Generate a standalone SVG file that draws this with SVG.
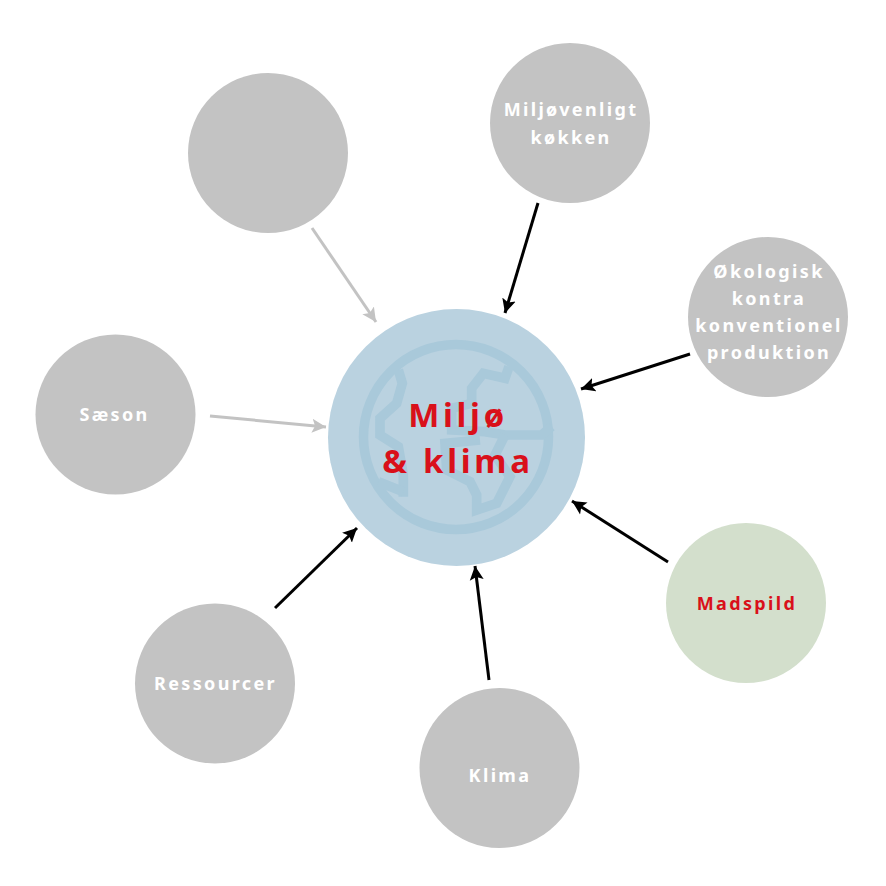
<svg xmlns="http://www.w3.org/2000/svg" width="886" height="886" viewBox="0 0 886 886">
<style>
.n{fill:#c3c3c3}
.t{font-family:"Noto Sans","Liberation Sans",sans-serif;font-weight:700;font-size:18px;letter-spacing:2.35px;fill:#fff;text-anchor:middle}
.r{fill:#d9101a}
.big{font-size:33px;letter-spacing:3.7px}
.k{stroke:#000;stroke-width:3;fill:none;marker-end:url(#ak)}
.g{stroke:#c3c3c3;stroke-width:3;fill:none;marker-end:url(#ag)}
</style>
<defs>
<marker id="ak" markerUnits="userSpaceOnUse" markerWidth="15" markerHeight="15" refX="14" refY="7.500" orient="auto"><path d="M0 0.500L14 7.500L0 14.500L3 7.500Z" fill="#000"/></marker>
<marker id="ag" markerUnits="userSpaceOnUse" markerWidth="15" markerHeight="15" refX="14" refY="7.500" orient="auto"><path d="M0 0.500L14 7.500L0 14.500L3 7.500Z" fill="#c3c3c3"/></marker>
</defs>
<rect width="886" height="886" fill="#fff"/>
<g id="connectors">
<path class="g" d="M312 228L376 322"/>
<path class="g" d="M210 416L326 427"/>
<path class="k" d="M538 203L505 313"/>
<path class="k" d="M690 354L581 389"/>
<path class="k" d="M668 562L572 501"/>
<path class="k" d="M489 680L475 566"/>
<path class="k" d="M275 608L357 528"/>
</g>
<g id="center">
<circle cx="456.500" cy="437.500" r="128.500" fill="#bad2e0"/>
<g fill="none" stroke="#a9c9da" stroke-width="9.500">
<circle cx="456" cy="437" r="92.500"/>
<g transform="translate(355 335) scale(.3333)" stroke-width="29" stroke-linejoin="miter">
<path d="M130 105L142 145L125 205L75 250L75 300L130 335L145 420L145 485"/>
<path d="M70 440L145 470"/>
<path d="M462 95L450 130L385 115L350 160L350 205L290 220L290 285L390 290L450 300L560 300L590 275"/>
<path d="M450 300L420 360L465 425L425 505L365 525L365 480L345 440L275 405L270 325L375 315"/>
</g>
</g>
<text class="t r big" x="458" y="427">Miljø</text>
<text class="t r big" x="458" y="473">&amp; klima</text>
</g>
<g id="node-blank"><circle class="n" cx="268" cy="153" r="80"/></g>
<g id="node-miljovenligt"><circle class="n" cx="570" cy="123" r="80"/>
<text class="t" x="571" y="116">Miljøvenligt</text><text class="t" x="571" y="144">køkken</text></g>
<g id="node-okologisk"><circle class="n" cx="768" cy="317" r="80"/>
<text class="t" x="769" y="278">Økologisk</text><text class="t" x="769" y="305">kontra</text><text class="t" x="769" y="332">konventionel</text><text class="t" x="769" y="359">produktion</text></g>
<g id="node-madspild"><circle cx="746" cy="603" r="80" fill="#d3dfcc"/>
<text class="t r" x="747" y="610">Madspild</text></g>
<g id="node-klima"><circle class="n" cx="499.500" cy="768" r="80"/>
<text class="t" x="500" y="782">Klima</text></g>
<g id="node-ressourcer"><circle class="n" cx="215" cy="683.500" r="80"/>
<text class="t" x="215.500" y="690">Ressourcer</text></g>
<g id="node-saeson"><circle class="n" cx="115.500" cy="414.500" r="80"/>
<text class="t" x="114.500" y="421">Sæson</text></g>
</svg>
